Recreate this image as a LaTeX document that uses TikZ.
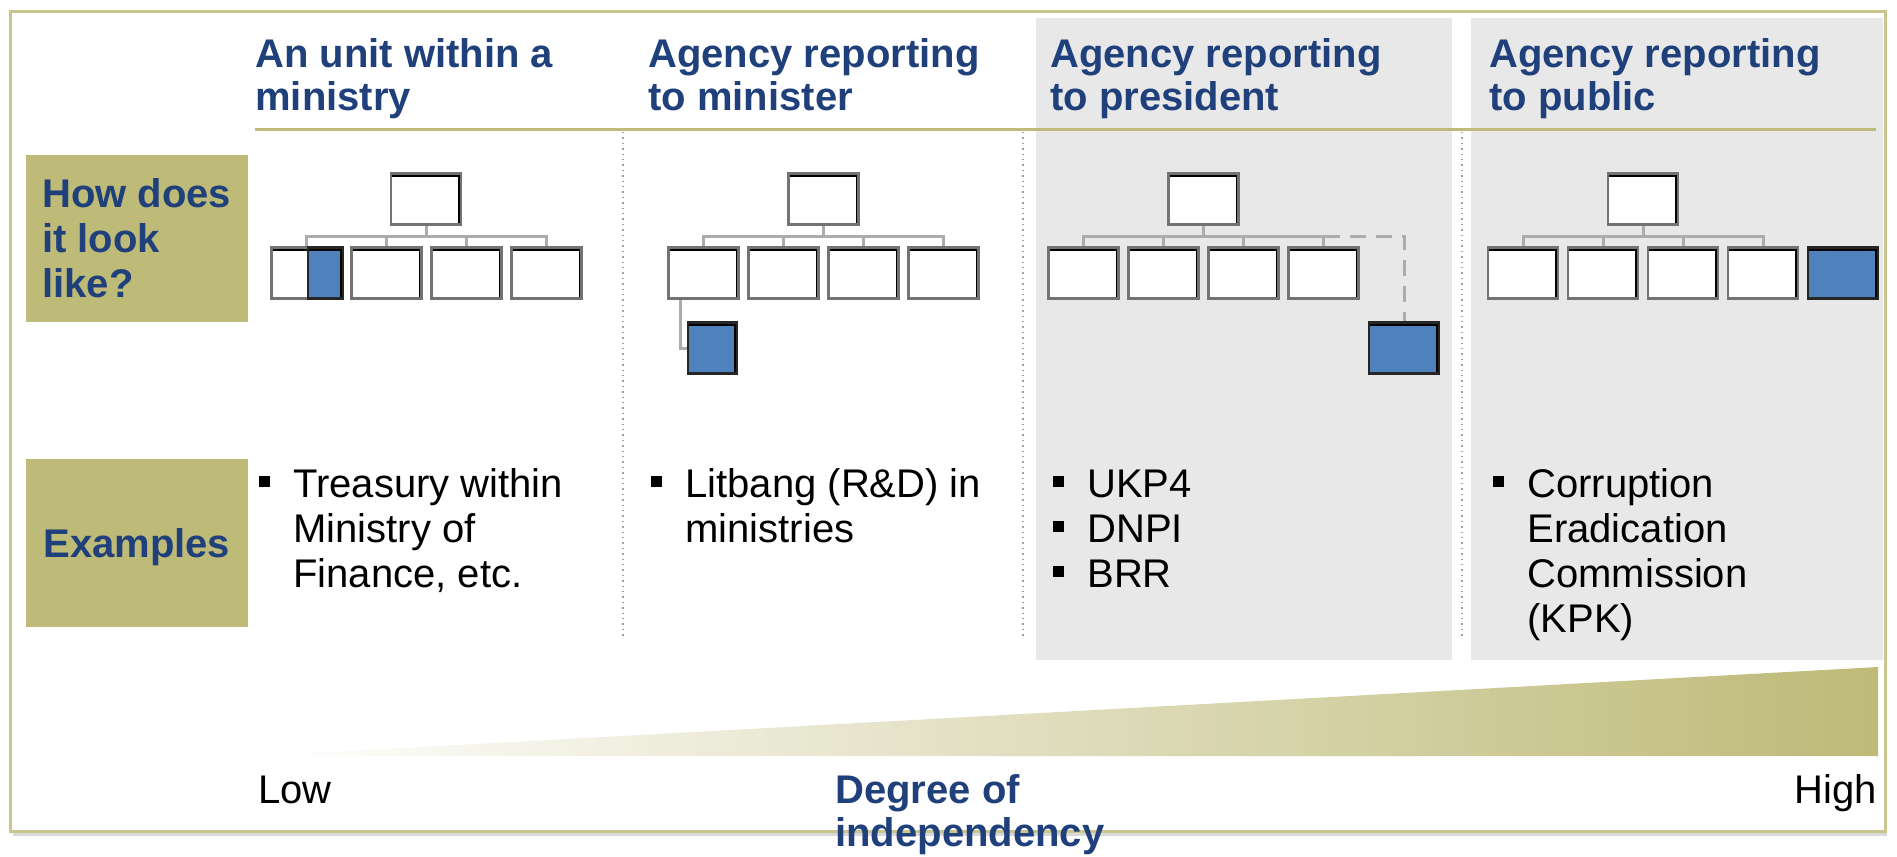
\documentclass[tikz,border=0pt]{standalone}
\usepackage{fontspec}
\setmainfont{Liberation Sans}
\usetikzlibrary{shadows}
\definecolor{oliv}{RGB}{190,186,120}
\definecolor{frameol}{RGB}{200,197,142}
\definecolor{navy}{RGB}{31,64,122}
\definecolor{orgblue}{RGB}{79,129,189}
\definecolor{panelgray}{RGB}{232,232,232}
\definecolor{conngray}{RGB}{172,172,172}
\definecolor{boxgray}{RGB}{115,115,115}
\definecolor{sepgray}{RGB}{160,160,160}
\newcommand{\exbul}{\makebox[17pt][l]{\rule[5pt]{5.5pt}{5.5pt}}}
\newcommand{\exind}{\hspace*{17pt}}
\begin{document}
\begin{tikzpicture}[x=0.5pt,y=-0.5pt,
  obox/.style={draw=boxgray, line width=1.2pt, fill=white, minimum width=35pt, minimum height=25.5pt, inner sep=0pt,
    path picture={\draw[black, line width=3pt] (path picture bounding box.north west) -- (path picture bounding box.north east) -- (path picture bounding box.south east);}},
  bbox/.style={obox, draw=black!85, fill=orgblue},
  conn/.style={draw=conngray, line width=1.5pt},
  dconn/.style={conn, dash pattern=on 8pt off 5pt},
  title/.style={anchor=north west, inner sep=0pt, align=left, font=\fontsize{20}{21.5}\selectfont\bfseries, text=navy},
  ex/.style={anchor=north west, inner sep=0pt, align=left, font=\fontsize{20}{22.5}\selectfont},
  lbl/.style={fill=oliv, text=navy, font=\fontsize{20}{22.5}\selectfont\bfseries, align=left, minimum width=111.25pt, inner sep=0pt},
  sep/.style={draw=sepgray, line width=0.7pt, dotted},
  frame/.style={draw=frameol, line width=1.5pt, fill=white, drop shadow={shadow xshift=1pt, shadow yshift=-2.5pt, opacity=0.3, fill=black!50}},
]
\useasboundingbox (0,0) rectangle (1897,857);
% outer frame
\path[frame] (10.5,11) rectangle (1885,831);
% grey panels
\fill[panelgray] (1036,18) rectangle (1452,660);
\fill[panelgray] (1471,18) rectangle (1883,660);
% header rule
\draw[oliv, line width=1.5pt] (255,129) -- (1876,129);
% separators
\draw[sep] (623,132) -- (623,637);
\draw[sep] (1023,132) -- (1023,637);
\draw[sep] (1462,132) -- (1462,637);
% titles
\node[title] (t1) at (255,36.6) {\strut An unit within a\\ministry};
\node[title] (t2) at (648,36.6) {\strut Agency reporting\\to minister};
\node[title] (t3) at (1050,36.6) {\strut Agency reporting\\to president};
\node[title] (t4) at (1489,36.6) {\strut Agency reporting\\to public};
% row labels
\node[lbl, minimum height=83.5pt] (howlbl) at (136.75,238.5) {How does\\it look\\like?};
\node[lbl, minimum height=83.7pt, text depth=0pt] (exlbl) at (136.75,543) {Examples};
% ---- chart 1
\node[obox] (a0) at (426,199) {};
\node[obox] (a1) at (306.5,273) {};
\node[obox] (a2) at (386.5,273) {};
\node[obox] (a3) at (466.5,273) {};
\node[obox] (a4) at (546.5,273) {};
\node[bbox, minimum width=17.75pt, anchor=north west] (ab) at (a1.north) {};
\coordinate (abar) at (426,236);
\draw[conn] (a0.south) -- (abar);
\draw[conn] (a1.north) |- (abar) -| (a4.north);
\draw[conn] (a2.north) -- (a2.north |- abar);
\draw[conn] (a3.north) -- (a3.north |- abar);
% ---- chart 2
\node[obox] (b0) at (823.5,199) {};
\node[obox] (b1) at (703.5,273) {};
\node[obox] (b2) at (783.5,273) {};
\node[obox] (b3) at (863.5,273) {};
\node[obox] (b4) at (943.5,273) {};
\node[bbox, minimum width=24.5pt] (bb) at (712.5,348) {};
\coordinate (bbar) at (823.5,236);
\draw[conn] (b0.south) -- (bbar);
\draw[conn] (b1.north) |- (bbar) -| (b4.north);
\draw[conn] (b2.north) -- (b2.north |- bbar);
\draw[conn] (b3.north) -- (b3.north |- bbar);
\draw[conn] ([xshift=-11.5pt]b1.south) |- (bb.west);
% ---- chart 3
\node[obox] (c0) at (1203.5,199) {};
\node[obox] (c1) at (1083.5,273) {};
\node[obox] (c2) at (1163.5,273) {};
\node[obox] (c3) at (1243.5,273) {};
\node[obox] (c4) at (1323.5,273) {};
\node[bbox] (cb) at (1404,348) {};
\coordinate (cbar) at (1203.5,236);
\draw[conn] (c0.south) -- (cbar);
\draw[conn] (c1.north) |- (cbar) -| (c4.north);
\draw[conn] (c2.north) -- (c2.north |- cbar);
\draw[conn] (c3.north) -- (c3.north |- cbar);
\draw[dconn] (c4.north |- cbar) -| (cb.north);
% ---- chart 4
\node[obox] (d0) at (1643,199) {};
\node[obox] (d1) at (1523,273) {};
\node[obox] (d2) at (1603,273) {};
\node[obox] (d3) at (1683,273) {};
\node[obox] (d4) at (1763,273) {};
\node[bbox] (db) at (1843,273) {};
\coordinate (dbar) at (1643,236);
\draw[conn] (d0.south) -- (dbar);
\draw[conn] (d1.north) |- (dbar) -| (d4.north);
\draw[conn] (d2.north) -- (d2.north |- dbar);
\draw[conn] (d3.north) -- (d3.north |- dbar);
% examples
\node[ex] (e1) at (259,465.5) {\strut\exbul Treasury within\\\exind Ministry of\\\exind Finance, etc.};
\node[ex] (e2) at (651,465.5) {\strut\exbul Litbang (R\&D) in\\\exind ministries};
\node[ex] (e3) at (1053,465.5) {\strut\exbul UKP4\\\exbul DNPI\\\exbul BRR};
\node[ex] (e4) at (1493,465.5) {\strut\exbul Corruption\\\exind Eradication\\\exind Commission\\\exind (KPK)};
% independence wedge
\shade[left color=white, right color=oliv] (257,756) -- (1878,667) -- (1878,756) -- cycle;
\node[anchor=base west, inner sep=0pt, font=\fontsize{20}{22.5}\selectfont] (low) at (258,803) {Low};
\node[anchor=base east, inner sep=0pt, font=\fontsize{20}{22.5}\selectfont] (high) at (1877,803) {High};
\node[title] (deg) at (835,772.5) {\strut Degree of\\independency};
\end{tikzpicture}
\end{document}
